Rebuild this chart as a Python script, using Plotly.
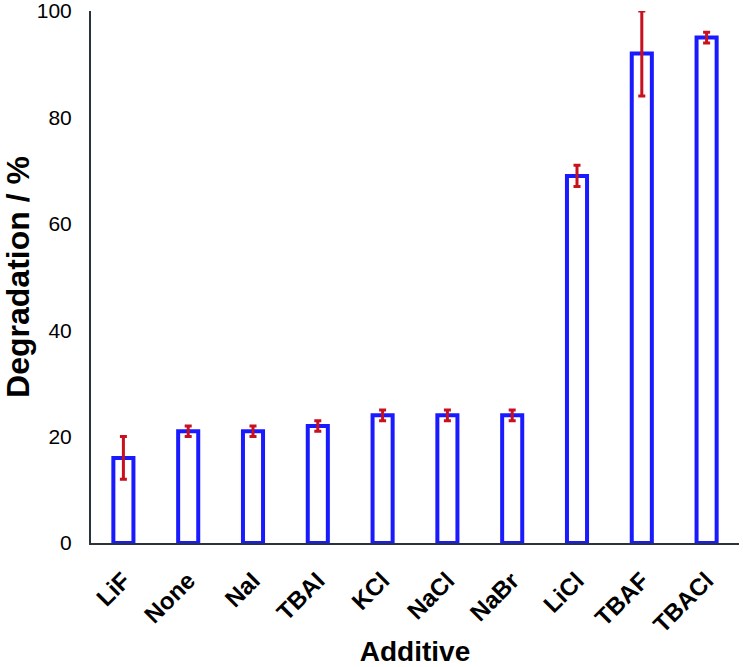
import plotly.graph_objects as go

categories = ["LiF", "None", "NaI", "TBAI", "KCl", "NaCl", "NaBr", "LiCl", "TBAF", "TBACl"]
degradation = [16, 21, 21, 22, 24, 24, 24, 69, 92, 95]
error = [4, 1, 1, 1, 1, 1, 1, 2, 8, 1]
y_ticks = [0, 20, 40, 60, 80, 100]

fig = go.Figure()
fig.add_trace(go.Bar(
    x=categories,
    y=degradation,
    width=0.31,
    marker=dict(color="white", line=dict(color="#1a1aff", width=4)),
    error_y=dict(type="data", array=error, visible=True,
                 color="#c8101e", thickness=3, width=3.5),
))

axis_color = "#27343d"
fig.update_layout(
    width=743, height=667,
    margin=dict(l=91, r=4, t=11, b=124),
    paper_bgcolor="white", plot_bgcolor="white",
    showlegend=False,
    font=dict(family="Liberation Sans, Arial, sans-serif", color="black"),
    xaxis=dict(
        type="category",
        automargin=False,
        showline=True, linecolor=axis_color, linewidth=2,
        showgrid=False, ticks="",
        tickangle=-45,
        tickfont=dict(size=24, family="Liberation Sans, Arial, sans-serif", weight="bold"),
        ticklabelstandoff=12,
        ticklabeloverflow="allow",
        title=dict(text="<b>Additive</b>", font=dict(size=28), standoff=12),
        range=[-0.5, 9.5],
    ),
    yaxis=dict(
        range=[0, 100],
        automargin=False,
        tickvals=y_ticks,
        showline=True, linecolor=axis_color, linewidth=2,
        showgrid=False, ticks="", zeroline=False,
        tickfont=dict(size=21),
        ticklabelstandoff=13,
        ticklabeloverflow="allow",
        title=dict(text="<b>Degradation / %</b>", font=dict(size=32), standoff=15),
    ),
)

fig.write_html("out.html", config={"displayModeBar": False},
               post_script="document.body.style.margin='0';")
